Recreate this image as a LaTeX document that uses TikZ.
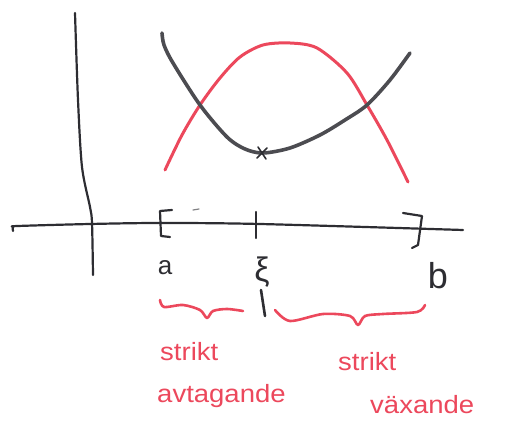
\documentclass[tikz,border=0pt]{standalone}
\usepackage{fontspec}
\setmainfont{Liberation Sans}
\definecolor{pen}{RGB}{45,45,50}
\definecolor{redpen}{RGB}{236,72,92}
\begin{document}
\begin{tikzpicture}[x=1pt,y=-1pt,
  axis/.style={draw=pen, line width=2.2pt, line cap=round, line join=round},
  curveblack/.style={draw=pen!85!white, line width=3.6pt, line cap=round},
  curvered/.style={draw=redpen, line width=3pt, line cap=round},
  bracepen/.style={draw=redpen, line width=2.6pt, line cap=round, line join=round},
  lab/.style={text=pen, font=\fontsize{26}{28}\selectfont, inner sep=0pt},
  redtext/.style={text=redpen, font=\fontsize{25}{28}\selectfont, inner sep=0pt, anchor=west, xscale=1.1},
]
\useasboundingbox (0,0) rectangle (512,427);
% axes
\draw[axis] plot[smooth] coordinates {(13,231) (13,227) (18,226) (90,224) (160,223) (260,224) (463,230)};
\draw[axis] plot[smooth] coordinates {(75,13) (78,100) (82,167) (90,207) (92,223) (93,275)};
% interval marks
\draw[axis] (172,210) -- (160,211) -- (161,236) -- (170,237);
\draw[axis] (403,213) -- (422,216) -- (418,245) -- (412,248);
\draw[axis] (256,212) -- (256,238);
\draw[draw=pen!60!white, line width=1.2pt, line cap=round] (193,210) -- (199,209);
% curves
\draw[curvered] plot[smooth] coordinates {(165,170) (182,135) (200,105) (220,78) (240,57) (263,45) (290,43) (317,48) (347,73) (367,105) (387,140) (408,182)};
\draw[curveblack] plot[smooth] coordinates {(162,33) (164,45) (173,63) (200,105) (227,137) (245,149) (263,153) (290,148) (320,135) (345,120) (367,105) (390,80) (410,53)};
\draw[draw=pen, line width=1.6pt, line cap=round] (258,147) -- (266,159) (267,148) -- (257,158);
% labels
\node[lab] (a) at (165,268) {a};
\node[lab, font=\fontsize{34}{36}\selectfont] (xi) at (262,272) {ξ};
\node[lab, font=\fontsize{36}{38}\selectfont] (b) at (438,276) {b};
\coordinate (xitail) at (265,316);
\draw[axis, line width=2.6pt] (261,290) -- (xitail);
% braces
\draw[bracepen] plot[smooth] coordinates {(160,300) (164,307) (183,305) (200,310) (207,318) (213,311) (227,309) (243,311)};
\draw[bracepen] plot[smooth] coordinates {(275,310) (290,321) (323,314) (350,316) (358,325) (365,316) (383,314) (417,312) (425,305)};
% texts
\node[redtext] (s1) at (160,352) {strikt};
\node[redtext] (av) at (157,396) {avtagande};
\node[redtext] (s2) at (338,362) {strikt};
\node[redtext] (vx) at (370,405) {växande};
\end{tikzpicture}
\end{document}
